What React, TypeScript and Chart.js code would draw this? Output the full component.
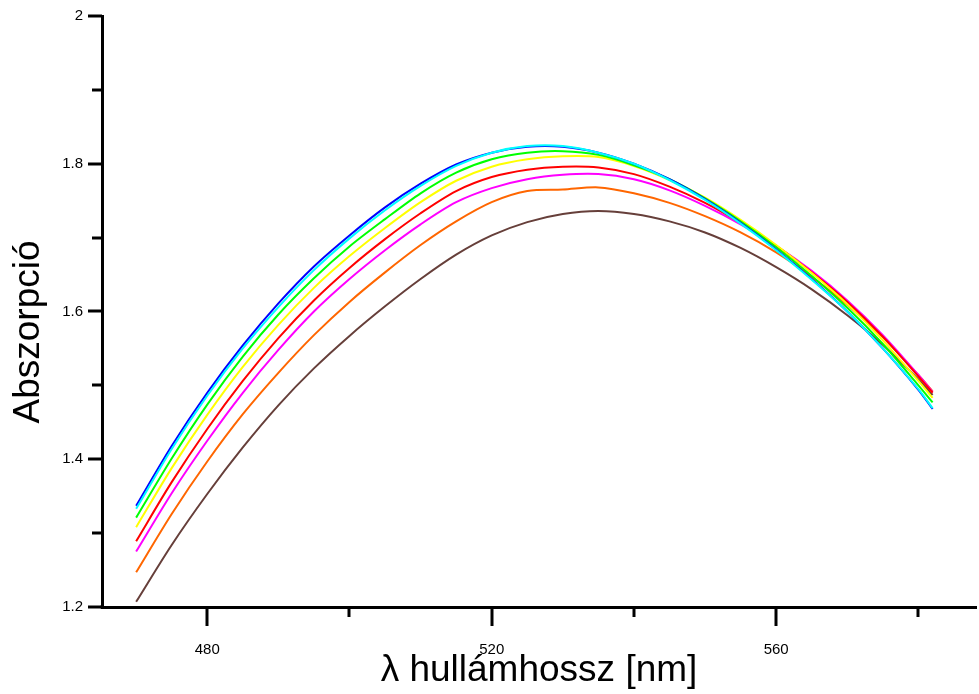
import React, { useEffect, useRef } from 'react';
import { Chart, registerables } from 'chart.js';

Chart.register(...registerables);

const wavelengths = [470, 475, 480, 485, 490, 495, 500, 505, 510, 515, 520, 525, 530, 535, 540, 545, 550, 555, 560, 565, 570, 575, 580, 582];

const cyanSeries = [1.333, 1.414, 1.486, 1.550, 1.606, 1.656, 1.699, 1.737, 1.770, 1.797, 1.815, 1.824, 1.824, 1.815, 1.800, 1.778, 1.751, 1.719, 1.683, 1.643, 1.600, 1.550, 1.495, 1.469];
const blueSeries = [1.337, 1.418, 1.490, 1.554, 1.611, 1.661, 1.703, 1.741, 1.773, 1.799, 1.815, 1.823, 1.823, 1.815, 1.800, 1.779, 1.752, 1.720, 1.684, 1.644, 1.600, 1.550, 1.494, 1.468];
const greenSeries = [1.321, 1.401, 1.474, 1.539, 1.596, 1.645, 1.688, 1.725, 1.760, 1.788, 1.806, 1.815, 1.817, 1.812, 1.798, 1.779, 1.753, 1.722, 1.687, 1.648, 1.605, 1.556, 1.500, 1.477];
const yellowSeries = [1.308, 1.388, 1.460, 1.525, 1.582, 1.632, 1.675, 1.713, 1.748, 1.777, 1.796, 1.806, 1.810, 1.809, 1.797, 1.778, 1.754, 1.724, 1.690, 1.652, 1.610, 1.561, 1.506, 1.483];
const redSeries = [1.289, 1.369, 1.441, 1.506, 1.564, 1.615, 1.659, 1.698, 1.733, 1.763, 1.782, 1.792, 1.796, 1.795, 1.786, 1.769, 1.747, 1.720, 1.689, 1.653, 1.613, 1.566, 1.512, 1.490];
const magentaSeries = [1.275, 1.354, 1.425, 1.490, 1.548, 1.600, 1.644, 1.683, 1.718, 1.748, 1.767, 1.779, 1.785, 1.786, 1.779, 1.764, 1.743, 1.718, 1.689, 1.655, 1.615, 1.568, 1.514, 1.491];
const orangeSeries = [1.247, 1.326, 1.397, 1.461, 1.517, 1.568, 1.613, 1.653, 1.690, 1.722, 1.748, 1.763, 1.765, 1.768, 1.760, 1.747, 1.729, 1.707, 1.680, 1.647, 1.609, 1.565, 1.514, 1.492];
const brownSeries = [1.207, 1.284, 1.353, 1.416, 1.473, 1.523, 1.567, 1.607, 1.644, 1.677, 1.703, 1.721, 1.732, 1.736, 1.732, 1.722, 1.707, 1.686, 1.660, 1.630, 1.595, 1.555, 1.508, 1.487];

const seriesList = [
  { name: 'cyan', values: cyanSeries, color: '#00ffff' },
  { name: 'blue', values: blueSeries, color: '#0000ff' },
  { name: 'green', values: greenSeries, color: '#00ff00' },
  { name: 'yellow', values: yellowSeries, color: '#ffff00' },
  { name: 'red', values: redSeries, color: '#ff0000' },
  { name: 'magenta', values: magentaSeries, color: '#ff00ff' },
  { name: 'orange', values: orangeSeries, color: '#ff6600' },
  { name: 'brown', values: brownSeries, color: '#663f3a' },
];

const xMajorTicks = [480, 520, 560];
const xMinorTicks = [500, 540, 580];
const yMajorTicks = [1.2, 1.4, 1.6, 1.8, 2.0];
const yMinorTicks = [1.3, 1.5, 1.7, 1.9];

const xTitle = 'λ hullámhossz [nm]';
const yTitle = 'Abszorpció';

const FONT = '"Liberation Sans", Arial, sans-serif';

const tickPlugin = {
  id: 'customTicks',
  afterDraw(chart: any) {
    const { ctx, scales } = chart;
    const xs = scales.x;
    const ys = scales.y;
    const axisY = chart.chartArea.bottom;
    const axisX = chart.chartArea.left;
    ctx.save();
    ctx.strokeStyle = '#000';
    ctx.lineWidth = 3;
    ctx.lineCap = 'butt';
    const drawX = (vals: number[], len: number) => {
      vals.forEach((v) => {
        const px = Math.round(xs.getPixelForValue(v));
        ctx.beginPath();
        ctx.moveTo(px, axisY);
        ctx.lineTo(px, axisY + len);
        ctx.stroke();
      });
    };
    const drawY = (vals: number[], len: number) => {
      vals.forEach((v) => {
        const py = Math.round(ys.getPixelForValue(v));
        ctx.beginPath();
        ctx.moveTo(axisX, py);
        ctx.lineTo(axisX - len, py);
        ctx.stroke();
      });
    };
    drawX(xMajorTicks, 19);
    drawX(xMinorTicks, 10);
    drawY(yMajorTicks, 14);
    drawY(yMinorTicks, 10);
    ctx.fillStyle = '#000';
    ctx.fillRect(axisX - 1.5, axisY - 1.5, 3, 3);
    ctx.translate(29, 332);
    ctx.rotate(-Math.PI / 2);
    ctx.font = '37px ' + FONT;
    ctx.textAlign = 'center';
    ctx.textBaseline = 'middle';
    ctx.fillText(yTitle, 0, 0);
    ctx.restore();
  },
};

export default function App() {
  const canvasRef = useRef<HTMLCanvasElement | null>(null);

  useEffect(() => {
    document.body.style.margin = '0';
    const canvas = canvasRef.current;
    if (!canvas) return;
    const chart = new Chart(canvas, {
      type: 'line',
      data: {
        datasets: seriesList.map((s) => ({
          label: s.name,
          data: wavelengths.map((w, i) => ({ x: w, y: s.values[i] })),
          borderColor: s.color,
          backgroundColor: s.color,
          borderWidth: 2,
          pointRadius: 0,
          tension: 0.3,
          fill: false,
        })),
      },
      options: {
        responsive: false,
        devicePixelRatio: 1,
        animation: false,
        layout: { padding: { left: 0, right: 3, top: 16, bottom: 0 } },
        plugins: {
          legend: { display: false },
          tooltip: { enabled: false },
        },
        scales: {
          x: {
            type: 'linear',
            min: 465.2,
            max: 588.1,
            afterFit: (scale: any) => {
              scale.height = 87;
              scale.paddingLeft = 0;
              scale.paddingRight = 0;
            },
            afterBuildTicks: (scale: any) => {
              scale.ticks = xMajorTicks.map((v) => ({ value: v }));
            },
            grid: { display: false },
            border: { display: true, color: '#000', width: 3 },
            ticks: {
              padding: 26,
              color: '#000',
              font: { family: FONT, size: 15 },
              maxRotation: 0,
              callback: (v: any) => String(v),
            },
            title: {
              display: true,
              text: xTitle,
              color: '#000',
              font: { family: FONT, size: 37 },
              padding: { top: 0, bottom: 1 },
            },
          },
          y: {
            type: 'linear',
            min: 1.2,
            max: 2.0,
            afterFit: (scale: any) => {
              scale.width = 102;
              scale.paddingTop = 0;
              scale.paddingBottom = 0;
            },
            afterBuildTicks: (scale: any) => {
              scale.ticks = yMajorTicks.map((v) => ({ value: v }));
            },
            grid: { display: false },
            border: { display: true, color: '#000', width: 3 },
            ticks: {
              padding: 11,
              color: '#000',
              font: { family: FONT, size: 15 },
              callback: (v: any) => String(Number(Number(v).toFixed(1))),
            },
          },
        },
      },
      plugins: [tickPlugin],
    });
    return () => chart.destroy();
  }, []);

  return (
    <div style={{ position: 'absolute', left: 0, top: 0, width: 979, height: 694, background: '#fff' }}>
      <canvas ref={canvasRef} width={979} height={694} />
    </div>
  );
}
